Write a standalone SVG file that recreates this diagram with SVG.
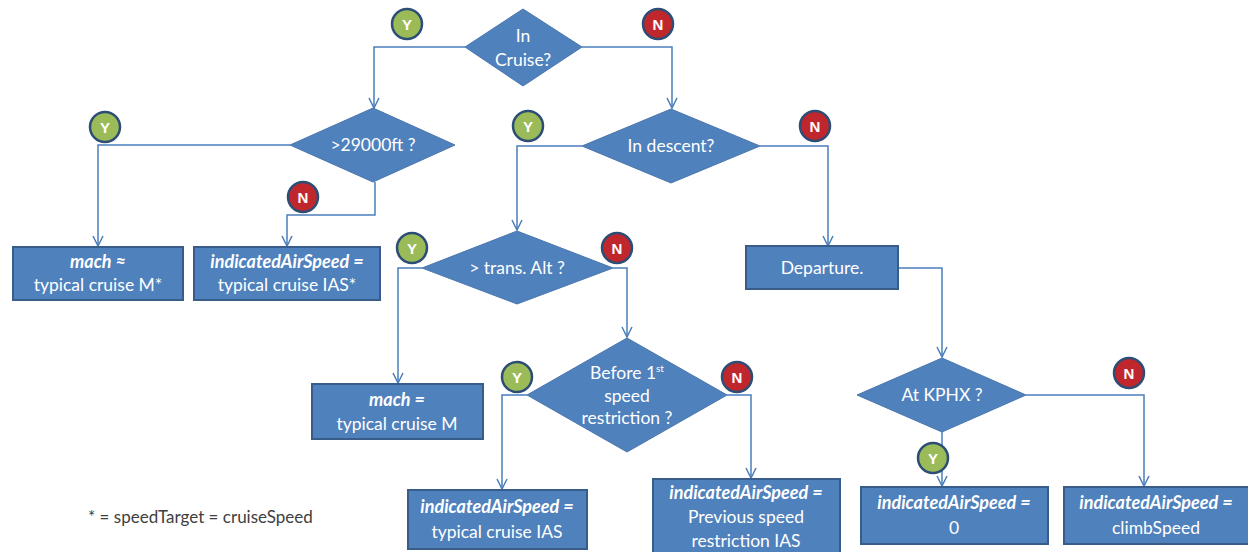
<svg xmlns="http://www.w3.org/2000/svg" width="1248" height="552" viewBox="0 0 1248 552">
<style>
.box{fill:#4F81BD;stroke:#385D8A;stroke-width:2}
.dia{fill:#4F81BD;stroke:#4A76AE;stroke-width:1}
.t{font-family:Lato,"Open Sans","Liberation Sans",sans-serif;font-size:17.5px;fill:#FFFFFF;text-anchor:middle}
.bi{font-weight:bold;font-style:italic;font-size:18px}
.c{fill:none;stroke:#4A7EBB;stroke-width:1.5}
.by{fill:#9BBB59;stroke:#2C4D75;stroke-width:2.5}
.bn{fill:#C0272D;stroke:#2C4D75;stroke-width:2.5}
.bt{font-family:"Liberation Sans",Arial,sans-serif;font-size:15px;font-weight:bold;fill:#FFFFFF;text-anchor:middle}
.note{font-family:Lato,"Open Sans","Liberation Sans",sans-serif;font-size:17px;fill:#404040}
</style>
<defs>
<marker id="arr" viewBox="0 0 12 12" refX="11" refY="6" markerWidth="12" markerHeight="12" markerUnits="userSpaceOnUse" orient="auto">
<path d="M1,1 L11,6 L1,11" fill="none" stroke="#4A7EBB" stroke-width="1.5"/>
</marker>
</defs>
<rect width="1248" height="552" fill="#FFFFFF"/>

<g id="connectors">
<path class="c" d="M465,47 H374 V108" marker-end="url(#arr)"/>
<path class="c" d="M582,47 H672 V108" marker-end="url(#arr)"/>
<path class="c" d="M290,145 H98 V246" marker-end="url(#arr)"/>
<path class="c" d="M375,182 V215 H287 V246" marker-end="url(#arr)"/>
<path class="c" d="M582,146 H517 V230" marker-end="url(#arr)"/>
<path class="c" d="M760,146 H828 V246" marker-end="url(#arr)"/>
<path class="c" d="M422,268 H398 V383" marker-end="url(#arr)"/>
<path class="c" d="M613,268 H627 V337" marker-end="url(#arr)"/>
<path class="c" d="M898,268 H942 V357" marker-end="url(#arr)"/>
<path class="c" d="M527,395 H502 V489" marker-end="url(#arr)"/>
<path class="c" d="M727,395 H751 V478" marker-end="url(#arr)"/>
<path class="c" d="M942,432 V486" marker-end="url(#arr)"/>
<path class="c" d="M1026,395 H1144 V486" marker-end="url(#arr)"/>
</g>

<g id="n_cruise">
<polygon class="dia" points="523,9 582,47 523,86 465,47"/>
<text class="t" x="523" y="42">In</text>
<text class="t" x="523" y="66">Cruise?</text>
</g>

<g id="n_29000">
<polygon class="dia" points="373,108 455,145 373,182 290,145"/>
<text class="t" x="373" y="151">&gt;29000ft ?</text>
</g>

<g id="n_descent">
<polygon class="dia" points="671,109 760,146 671,183 582,146"/>
<text class="t" x="671" y="152">In descent?</text>
</g>

<g id="n_trans">
<polygon class="dia" points="517,231 613,268 517,304 422,268"/>
<text class="t" x="517" y="274">&gt; trans. Alt ?</text>
</g>

<g id="n_before">
<polygon class="dia" points="627,338 727,395 627,452 527,395"/>
<text class="t" x="627" y="379">Before 1<tspan font-size="10" dy="-7">st</tspan></text>
<text class="t" x="627" y="402">speed</text>
<text class="t" x="627" y="424">restriction ?</text>
</g>

<g id="n_kphx">
<polygon class="dia" points="942,358 1026,395 942,432 857,395"/>
<text class="t" x="942" y="401">At KPHX ?</text>
</g>

<g id="n_mach_star">
<rect class="box" x="13" y="247" width="170" height="53"/>
<text class="t bi" x="98" y="268">mach ≈</text>
<text class="t" x="98" y="291">typical cruise M*</text>
</g>

<g id="n_ias_star">
<rect class="box" x="194" y="247" width="186" height="53"/>
<text class="t bi" x="287" y="268">indicatedAirSpeed =</text>
<text class="t" x="287" y="291">typical cruise IAS*</text>
</g>

<g id="n_departure">
<rect class="box" x="746" y="246" width="152" height="43"/>
<text class="t" x="822" y="274">Departure.</text>
</g>

<g id="n_mach">
<rect class="box" x="312" y="384" width="171" height="55"/>
<text class="t bi" x="397" y="406">mach =</text>
<text class="t" x="397" y="430">typical cruise M</text>
</g>

<g id="n_ias_cruise">
<rect class="box" x="408" y="490" width="179" height="59"/>
<text class="t bi" x="497" y="513">indicatedAirSpeed =</text>
<text class="t" x="497" y="538">typical cruise IAS</text>
</g>

<g id="n_ias_prev">
<rect class="box" x="653" y="479" width="187" height="78"/>
<text class="t bi" x="746" y="499">indicatedAirSpeed =</text>
<text class="t" x="746" y="523">Previous speed</text>
<text class="t" x="746" y="547">restriction IAS</text>
</g>

<g id="n_ias_zero">
<rect class="box" x="861" y="487" width="187" height="57"/>
<text class="t bi" x="954" y="509">indicatedAirSpeed =</text>
<text class="t" x="954" y="534">0</text>
</g>

<g id="n_ias_climb">
<rect class="box" x="1064" y="487" width="186" height="57"/>
<text class="t bi" x="1156" y="509">indicatedAirSpeed =</text>
<text class="t" x="1156" y="534">climbSpeed</text>
</g>

<g id="badges">
<circle class="by" cx="407" cy="24" r="15"/><text class="bt" x="407" y="29.5">Y</text>
<circle class="bn" cx="658" cy="24" r="15"/><text class="bt" x="658" y="29.5">N</text>
<circle class="by" cx="105" cy="127" r="15"/><text class="bt" x="105" y="132.5">Y</text>
<circle class="bn" cx="303" cy="197" r="15"/><text class="bt" x="303" y="202.5">N</text>
<circle class="by" cx="528" cy="126" r="15"/><text class="bt" x="528" y="131.5">Y</text>
<circle class="bn" cx="815" cy="126" r="15"/><text class="bt" x="815" y="131.5">N</text>
<circle class="by" cx="412" cy="248" r="15"/><text class="bt" x="412" y="253.5">Y</text>
<circle class="bn" cx="617" cy="248" r="15"/><text class="bt" x="617" y="253.5">N</text>
<circle class="by" cx="517" cy="377" r="15"/><text class="bt" x="517" y="382.5">Y</text>
<circle class="bn" cx="737" cy="377" r="15"/><text class="bt" x="737" y="382.5">N</text>
<circle class="bn" cx="1129" cy="373" r="15"/><text class="bt" x="1129" y="378.5">N</text>
<circle class="by" cx="933" cy="458" r="15"/><text class="bt" x="933" y="463.5">Y</text>
</g>

<text class="note" x="88" y="523">* = speedTarget = cruiseSpeed</text>
</svg>
